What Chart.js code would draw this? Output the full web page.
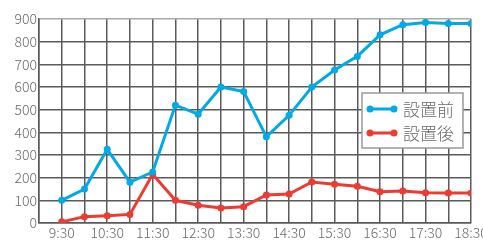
<!DOCTYPE html>
<html>
<head>
<meta charset="utf-8">
<script src="https://cdn.jsdelivr.net/npm/chart.js@4"></script>
<style>
html, body { margin: 0; padding: 0; background: #fff; }
#wrap { width: 483px; height: 242px; }
</style>
</head>
<body>
<div id="wrap"><canvas id="chartHolder" width="483" height="242"></canvas></div>
<script>
const times = ["9:30","10:00","10:30","11:00","11:30","12:00","12:30","13:00","13:30","14:00",
               "14:30","15:00","15:30","16:00","16:30","17:00","17:30","18:00","18:30"];
const before = [100,150,325,180,225,520,480,600,580,380,475,600,675,735,830,875,885,880,880];
const after = [5,28,32,38,215,100,78,66,72,124,128,181,171,162,138,141,134,132,132];
const seriesNames = ["設置前", "設置後"];
const seriesColors = ["#00a9e8", "#ee3a30"];
const yTicks = [0,100,200,300,400,500,600,700,800,900];

function toMinutes(t)
{
    const parts = t.split(":");
    return Number(parts[0]) * 60 + Number(parts[1]);
}
function toLabel(m)
{
    return Math.floor(m / 60) + ":" + String(m % 60).padStart(2, "0");
}

const fontFamily = "'Noto Sans CJK JP', 'Noto Sans', sans-serif";

// legend drawn inside the plot, line sample with a dot at each end
const boxLegend = {
    id: "boxLegend",
    afterDraw(chart)
    {
        const ctx = chart.ctx;
        const x0 = 362, y0 = 93, w = 101, h = 55;
        ctx.save();
        ctx.fillStyle = "#fff";
        ctx.fillRect(x0, y0, w, h);
        ctx.strokeStyle = "#999";
        ctx.lineWidth = 1.5;
        ctx.strokeRect(x0, y0, w, h);
        chart.data.datasets.forEach((ds, i) => {
            const y = y0 + 16 + i * 24;
            ctx.strokeStyle = ds.borderColor;
            ctx.fillStyle = ds.borderColor;
            ctx.lineWidth = 3;
            ctx.beginPath();
            ctx.moveTo(370, y);
            ctx.lineTo(394, y);
            ctx.stroke();
            [370, 394].forEach(px => {
                ctx.beginPath();
                ctx.arc(px, y, 3.5, 0, Math.PI * 2);
                ctx.fill();
            });
            ctx.fillStyle = "#6a6a6a";
            ctx.font = "300 17px " + fontFamily;
            ctx.textBaseline = "middle";
            ctx.fillText(ds.label, 403, y + 1);
        });
        ctx.restore();
    }
};

function makeData(values)
{
    return values.map((v, i) => ({x: toMinutes(times[i]), y: v}));
}

new Chart(document.getElementById("chartHolder"), {
    type: "line",
    data: {
        datasets: [
            {label: seriesNames[0], data: makeData(before), borderColor: seriesColors[0], backgroundColor: seriesColors[0],
             borderWidth: 3, pointRadius: 3.5, pointBorderWidth: 0, tension: 0},
            {label: seriesNames[1], data: makeData(after), borderColor: seriesColors[1], backgroundColor: seriesColors[1],
             borderWidth: 3, pointRadius: 3.5, pointBorderWidth: 0, tension: 0}
        ]
    },
    options: {
        responsive: false,
        animation: false,
        layout: {padding: {top: 19, right: 12, left: 0, bottom: 0}},
        plugins: {legend: {display: false}, tooltip: {enabled: false}},
        scales: {
            x: {
                type: "linear",
                min: toMinutes(times[0]) - 30,
                max: toMinutes(times[times.length - 1]),
                afterFit: s => { s.height = 19; s.paddingRight = 0; s.paddingLeft = 0; },
                afterBuildTicks: s => {
                    s.ticks = [];
                    for (let m = s.min; m <= s.max; m += 30) s.ticks.push({value: m});
                },
                ticks: {
                    autoSkip: false, maxRotation: 0, padding: 1, color: "#6a6a6a",
                    font: {family: fontFamily, size: 14, weight: 300},
                    callback: v => ((v - toMinutes(times[0])) % 60 === 0 ? toLabel(v) : "")
                },
                grid: {color: "#5a5a5a", lineWidth: 1.5, drawTicks: false},
                border: {color: "#5a5a5a", width: 1.5}
            },
            y: {
                min: yTicks[0],
                max: yTicks[yTicks.length - 1],
                afterFit: s => { s.width = 39; s.paddingTop = 0; s.paddingBottom = 0; },
                afterBuildTicks: s => { s.ticks = yTicks.map(v => ({value: v})); },
                ticks: {padding: 2, color: "#6a6a6a", font: {family: fontFamily, size: 14, weight: 300}},
                grid: {color: c => (c.tick && c.tick.value === 900 ? "#aaa" : "#5a5a5a"), lineWidth: 1.5, drawTicks: false},
                border: {color: "#5a5a5a", width: 1.5}
            }
        }
    },
    plugins: [boxLegend]
});
</script>
</body>
</html>
